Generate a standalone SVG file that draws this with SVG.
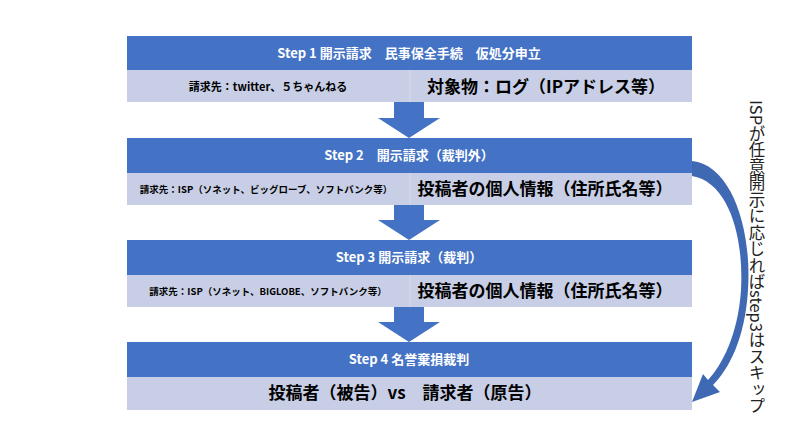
<svg xmlns="http://www.w3.org/2000/svg" width="800" height="434" viewBox="0 0 800 434">
<style>
.h{fill:#4472C4}.b{fill:#C7CEE5}
.ht{fill:#fff;font:bold 13px "Noto Sans CJK JP",sans-serif;text-anchor:middle}
.s{fill:#000;font:bold 11px "Noto Sans CJK JP",sans-serif;text-anchor:middle}
.s2{fill:#000;font:bold 9.5px "Noto Sans CJK JP",sans-serif;text-anchor:middle}
.l{fill:#000;font:bold 17px "Noto Sans CJK JP",sans-serif;text-anchor:middle}
.dv{stroke:#d8deef;stroke-width:1}
.ar{fill:#4472C4}
</style>
<rect width="800" height="434" fill="#fff"/>
<g id="step1">
<rect class="h" x="127" y="36" width="565" height="34"/>
<rect class="b" x="127" y="70" width="565" height="32"/>
<line class="dv" x1="410" y1="70" x2="410" y2="102"/>
<text class="ht" x="409" y="58">Step 1 開示請求　民事保全手続　仮処分申立</text>
<text class="s" x="268" y="91">請求先：twitter、５ちゃんねる</text>
<text class="l" x="546" y="93">対象物：ログ（IPアドレス等）</text>
</g>
<g id="step2">
<rect class="h" x="127" y="138" width="565" height="35"/>
<rect class="b" x="127" y="173" width="565" height="32"/>
<line class="dv" x1="410" y1="173" x2="410" y2="205"/>
<text class="ht" x="409" y="160">Step 2　開示請求（裁判外）</text>
<text class="s2" x="266" y="193">請求先：ISP（ソネット、ビッグローブ、ソフトバンク等）</text>
<text class="l" x="545" y="195">投稿者の個人情報（住所氏名等）</text>
</g>
<g id="step3">
<rect class="h" x="127" y="240" width="565" height="35"/>
<rect class="b" x="127" y="275" width="565" height="32"/>
<line class="dv" x1="410" y1="275" x2="410" y2="307"/>
<text class="ht" x="409" y="262">Step 3 開示請求（裁判）</text>
<text class="s2" x="268" y="295">請求先：ISP（ソネット、BIGLOBE、ソフトバンク等）</text>
<text class="l" x="545" y="297">投稿者の個人情報（住所氏名等）</text>
</g>
<g id="step4">
<rect class="h" x="127" y="342" width="565" height="35"/>
<rect class="b" x="127" y="377" width="565" height="33"/>
<text class="ht" x="409" y="364">Step 4 名誉棄損裁判</text>
<text class="l" x="405" y="399">投稿者（被告）vs　請求者（原告）</text>
</g>
<g id="connectors">
<polygon class="ar" points="394,102 424,102 424,118 440,118 409,138 378,118 394,118"/>
<polygon class="ar" points="394,205 424,205 424,220 440,220 409,240 378,220 394,220"/>
<polygon class="ar" points="394,307 424,307 424,322 440,322 409,342 378,322 394,322"/>
<path fill="#3F69B3" d="M692,161 C732,165 752,230 748,290 C745,340 728,370 713,385 L720,392 L692,402 L703,374 L708,380 C722,365 738,335 741,290 C744,235 728,182 692,176 Z"/>
</g>
<text x="757" y="100" font-family="Noto Sans CJK JP,sans-serif" font-size="16.5" fill="#222" writing-mode="tb">ISPが任意開示に応じればstep3はスキップ</text>
</svg>
